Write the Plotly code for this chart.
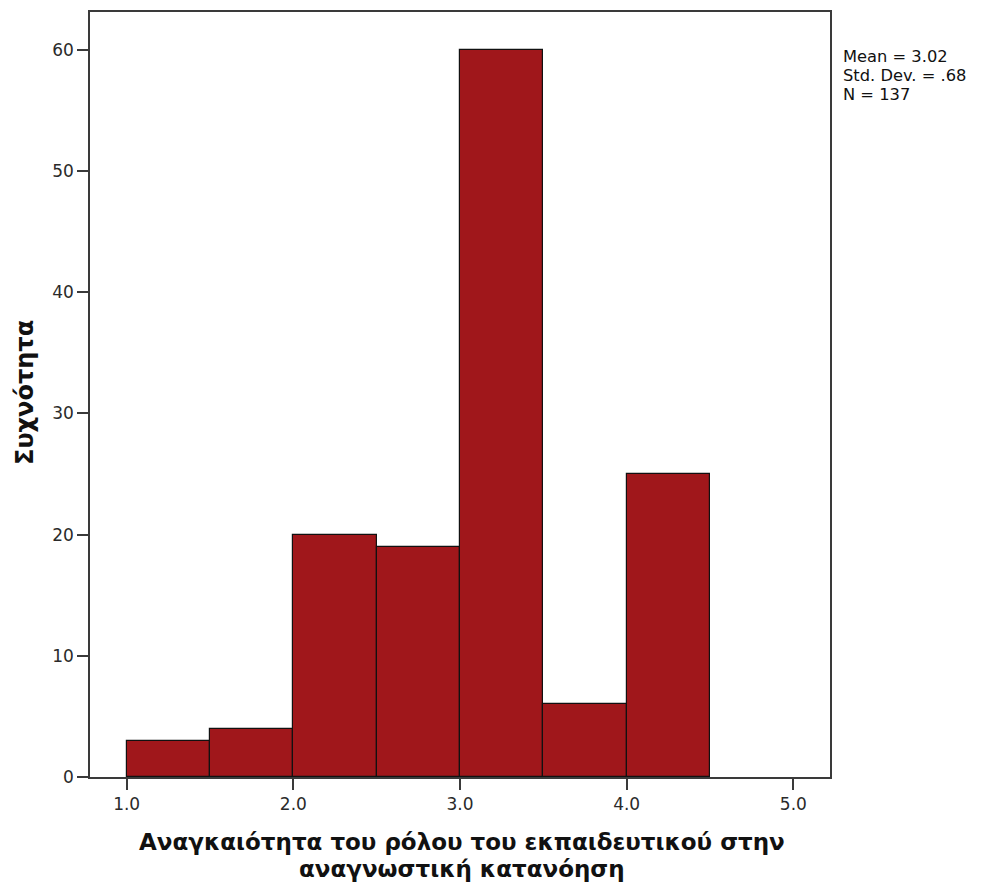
import plotly.graph_objects as go

# Histogram bins (lower edge, width) and counts
bin_starts = [1.0, 1.5, 2.0, 2.5, 3.0, 3.5, 4.0]
bin_width = 0.5
counts = [3, 4, 20, 19, 60, 6, 25]

x_ticks = [1.0, 2.0, 3.0, 4.0, 5.0]
y_ticks = [0, 10, 20, 30, 40, 50, 60]

x_title_lines = ["Αναγκαιότητα του ρόλου του εκπαιδευτικού στην", "αναγνωστική κατανόηση"]
y_title = "Συχνότητα"
stats_lines = ["Mean = 3.02", "Std. Dev. = .68", "N = 137"]

bar_color = "#A0171B"
axis_color = "#3a3a3a"
font_family = "DejaVu Sans"

# plot area in pixels
L, R, T, B = 90, 830, 10, 777
PW, PH = R - L, B - T


def px_x(x):
    return (x - L) / PW


def px_y(y):
    return (B - y) / PH


centers = [s + bin_width / 2 for s in bin_starts]

fig = go.Figure(
    go.Bar(
        x=centers,
        y=counts,
        width=[bin_width] * len(counts),
        marker=dict(color=bar_color, line=dict(color="#111111", width=1.2)),
        hoverinfo="x+y",
    )
)

axis_common = dict(
    showline=True,
    mirror=True,
    linecolor=axis_color,
    linewidth=1.5,
    ticks="outside",
    ticklen=11,
    tickwidth=1.5,
    tickcolor=axis_color,
    showgrid=False,
    zeroline=False,
    tickfont=dict(family=font_family, size=17, color="#2a2a2a"),
)

fig.update_xaxes(
    range=[0.78, 5.22],
    tickvals=x_ticks,
    ticktext=[f"{v:.1f}" for v in x_ticks],
    **axis_common,
)
fig.update_yaxes(
    range=[0, 63.13],
    tickvals=y_ticks,
    ticktext=[str(v) for v in y_ticks],
    **axis_common,
)

annotations = []
for i, line in enumerate(x_title_lines):
    annotations.append(
        dict(
            text=f"<b>{line}</b>",
            xref="paper", yref="paper",
            x=px_x(462), y=px_y(842 + 27 * i),
            xanchor="center", yanchor="middle",
            showarrow=False,
            font=dict(family=font_family, size=23, color="#111111"),
        )
    )
annotations.append(
    dict(
        text=f"<b>{y_title}</b>",
        xref="paper", yref="paper",
        x=px_x(25), y=px_y(392),
        xanchor="center", yanchor="middle",
        textangle=-90,
        showarrow=False,
        font=dict(family=font_family, size=24, color="#111111"),
    )
)
for i, line in enumerate(stats_lines):
    annotations.append(
        dict(
            text=line,
            xref="paper", yref="paper",
            x=px_x(841), y=px_y(55 + 19 * i),
            xanchor="left", yanchor="middle",
            showarrow=False,
            font=dict(family=font_family, size=16.3, color="#111111"),
        )
    )

fig.update_layout(
    width=987,
    height=883,
    margin=dict(l=L, r=987 - R, t=T, b=883 - B),
    paper_bgcolor="white",
    plot_bgcolor="white",
    showlegend=False,
    bargap=0,
    annotations=annotations,
)

fig.write_html("out.html")
